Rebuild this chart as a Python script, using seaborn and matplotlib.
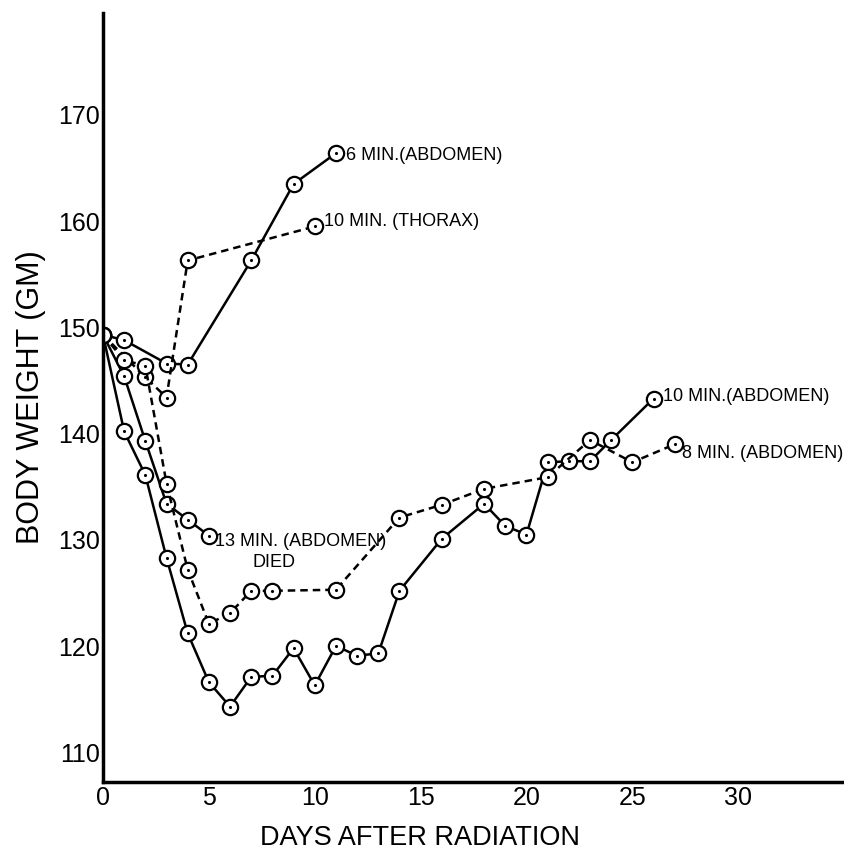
import pandas as pd
import matplotlib
matplotlib.use("Agg")
import matplotlib.pyplot as plt
import seaborn as sns

# body weight (gm) against days after radiation
days_6_abd = [0, 1, 3, 4, 7, 9, 11]
wt_6_abd = [149.3, 148.8, 146.6, 146.5, 156.3, 163.5, 166.4]

days_10_thx = [0, 2, 3, 4, 10]
wt_10_thx = [149.3, 145.3, 143.4, 156.3, 159.5]

days_13_abd = [0, 1, 2, 3, 4, 5]
wt_13_abd = [149.3, 145.4, 139.3, 133.4, 131.9, 130.4]

days_10_abd = [0, 1, 2, 3, 4, 5, 6, 7, 8, 9, 10, 11, 12, 13, 14, 16, 18, 19,
               20, 21, 22, 23, 24, 26]
wt_10_abd = [149.3, 140.2, 136.1, 128.3, 121.2, 116.6, 114.3, 117.1, 117.2,
             119.8, 116.3, 120.0, 119.1, 119.3, 125.2, 130.1, 133.4, 131.3,
             130.5, 137.3, 137.4, 137.4, 139.4, 143.3]

days_8_abd = [0, 1, 2, 3, 4, 5, 6, 7, 8, 11, 14, 16, 18, 21, 23, 25, 27]
wt_8_abd = [149.3, 146.9, 146.4, 135.3, 127.2, 122.1, 123.1, 125.2, 125.2,
            125.3, 132.1, 133.3, 134.8, 135.9, 139.4, 137.3, 139.0]

x_ticks = [0, 5, 10, 15, 20, 25, 30]
y_ticks = [110, 120, 130, 140, 150, 160, 170]

dash = (0, (3, 2))
series = [
    ("6 MIN.(ABDOMEN)", days_6_abd, wt_6_abd, "-", (7, -1.5)),
    ("10 MIN. (THORAX)", days_10_thx, wt_10_thx, dash, (7, 3.5)),
    ("13 MIN. (ABDOMEN)", days_13_abd, wt_13_abd, "-", (4.3, -4.3)),
    ("10 MIN.(ABDOMEN)", days_10_abd, wt_10_abd, "-", (7, 1.5)),
    ("8 MIN. (ABDOMEN)", days_8_abd, wt_8_abd, dash, (5, -6.5)),
]

sns.set_style("white", rc={"text.color": "black", "axes.labelcolor": "black",
                           "xtick.color": "black", "ytick.color": "black"})
plt.rcParams["font.family"] = ["Liberation Sans", "DejaVu Sans"]

fig = plt.figure(figsize=(8.44, 8.5), dpi=100)
ax = fig.add_axes([103 / 844, 68 / 850, 739 / 844, 769 / 850])

for label, days, wt, ls, off in series:
    df = pd.DataFrame({"day": days, "wt": wt})
    sns.lineplot(data=df, x="day", y="wt", ax=ax, estimator=None, sort=False,
                 color="black", lw=1.8, linestyle=ls, marker="o",
                 markersize=11, markerfacecolor="white",
                 markeredgecolor="black", markeredgewidth=1.6, zorder=2)
    sns.scatterplot(data=df, x="day", y="wt", ax=ax, color="black", s=5,
                    linewidth=0, zorder=3)
    ax.annotate(label, (days[-1], wt[-1]), xytext=off,
                textcoords="offset points", ha="left", va="center",
                fontsize=13, color="black")

ax.annotate("DIED", (days_13_abd[-1], wt_13_abd[-1]), xytext=(47, -19.5),
            textcoords="offset points", ha="center", va="center",
            fontsize=13, color="black")

ax.set_xlim(0, 34.9)
ax.set_ylim(107.2, 179.6)
ax.set_xticks(x_ticks)
ax.set_yticks(y_ticks)
ax.tick_params(length=0, labelsize=18, labelcolor="black")
ax.tick_params(axis="x", pad=3)
ax.tick_params(axis="y", pad=2)

ax.set_xlabel("DAYS AFTER RADIATION", fontsize=19.5, color="black")
ax.set_ylabel("BODY WEIGHT (GM)", fontsize=22, color="black")
ax.xaxis.set_label_coords(0.429, -0.056)
ax.yaxis.set_label_coords(-0.077, 0.5)

for side in ["top", "right"]:
    ax.spines[side].set_visible(False)
for side in ["left", "bottom"]:
    ax.spines[side].set_linewidth(2.5)
    ax.spines[side].set_color("black")

fig.savefig("out.png", dpi=100)
